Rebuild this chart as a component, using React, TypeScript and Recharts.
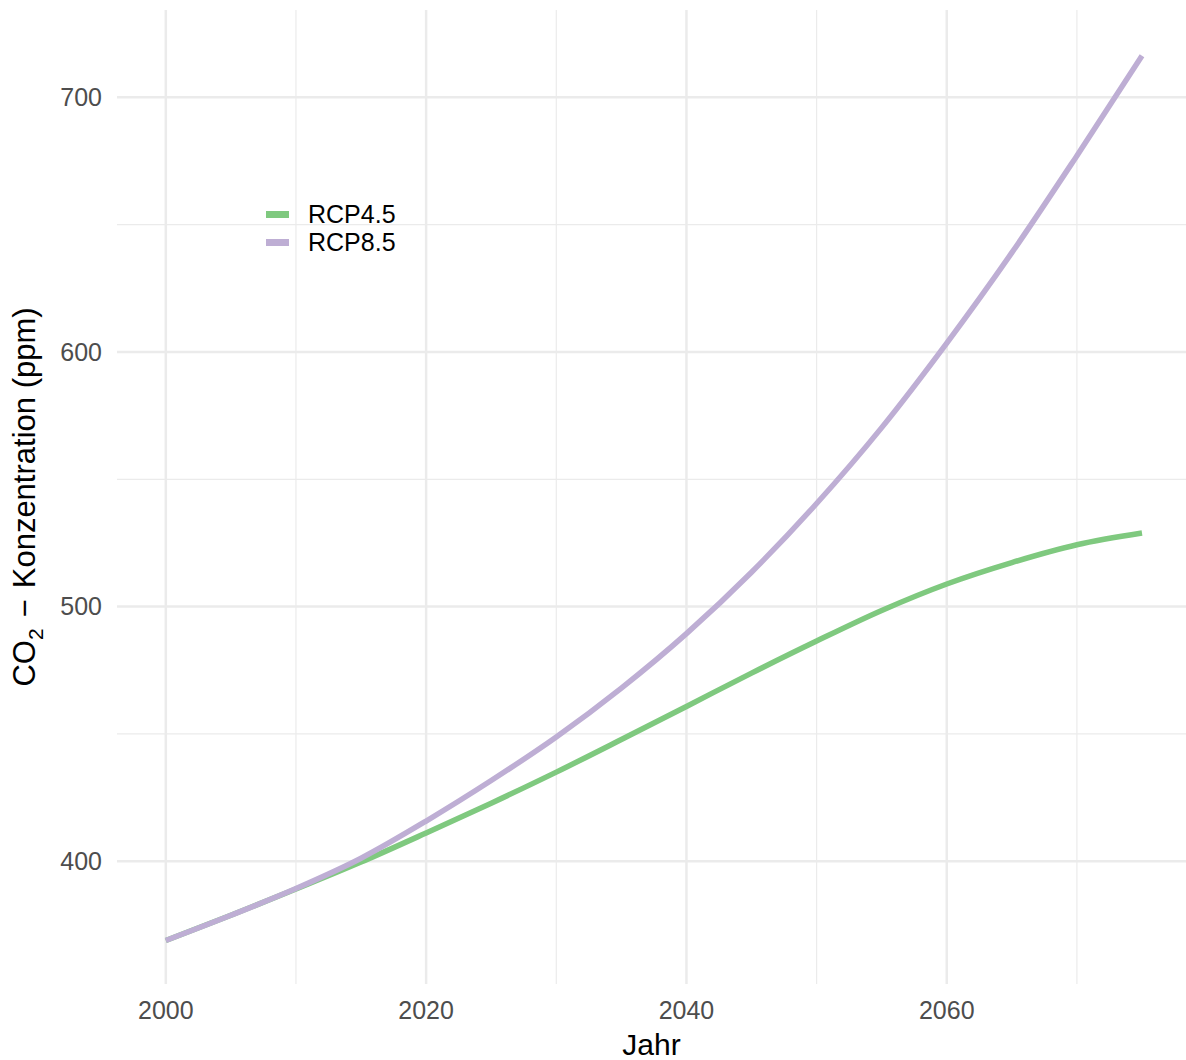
import { Line, LineChart, ReferenceLine, XAxis, YAxis } from "recharts";

const years = [2000, 2005, 2010, 2015, 2020, 2025, 2030, 2035, 2040, 2045, 2050, 2055, 2060, 2065, 2070, 2075];
const rcp45 = [368.9, 378.8, 389.1, 399.7, 411.1, 422.8, 435.0, 447.8, 460.8, 473.9, 486.5, 498.5, 508.9, 517.3, 524.3, 528.9];
const rcp85 = [368.9, 378.8, 389.3, 401.2, 415.8, 431.7, 448.8, 468.0, 489.4, 513.5, 540.5, 570.3, 603.5, 639.0, 677.1, 716.3];

const xMajor = [2000, 2020, 2040, 2060];
const xMinor = [2010, 2030, 2050, 2070];
const yMajor = [400, 500, 600, 700];
const yMinor = [450, 550, 650];

const series = [
  { key: "rcp45", name: "RCP4.5", color: "#7FC97F" },
  { key: "rcp85", name: "RCP8.5", color: "#BEAED4" },
];

const data = years.map((year, i) => ({ year, rcp45: rcp45[i], rcp85: rcp85[i] }));

const font = "'Liberation Sans', Arial, sans-serif";
const gridColor = "#EBEBEB";

function LegendBox() {
  return (
    <div style={{ position: "absolute", left: 266, top: 200.7, fontFamily: font, fontSize: 25, color: "#000" }}>
      {series.map((s) => (
        <div key={s.key} style={{ display: "flex", alignItems: "center", height: 28 }}>
          <span style={{ display: "inline-block", width: 23, height: 6.5, background: s.color, marginRight: 19 }} />
          <span>{s.name}</span>
        </div>
      ))}
    </div>
  );
}

export default function App() {
  return (
    <div style={{ position: "absolute", left: 0, top: 0, width: 1186, height: 1060, overflow: "hidden", background: "#fff" }}>
      <LineChart width={1186} height={1060} data={data} margin={{ top: 10, right: 0, bottom: 0, left: 0 }}>
        {xMinor.map((v) => (
          <ReferenceLine key={"xm" + v} x={v} stroke={gridColor} strokeWidth={1.2} />
        ))}
        {yMinor.map((v) => (
          <ReferenceLine key={"ym" + v} y={v} stroke={gridColor} strokeWidth={1.2} />
        ))}
        {xMajor.map((v) => (
          <ReferenceLine key={"xM" + v} x={v} stroke={gridColor} strokeWidth={2.5} />
        ))}
        {yMajor.map((v) => (
          <ReferenceLine key={"yM" + v} y={v} stroke={gridColor} strokeWidth={2.5} />
        ))}
        <XAxis
          dataKey="year"
          type="number"
          domain={[1996.25, 2078.38]}
          ticks={xMajor}
          allowDataOverflow
          axisLine={false}
          tickLine={false}
          tickSize={0}
          tickMargin={17}
          height={76}
          tick={{ fill: "#4D4D4D", fontSize: 25, fontFamily: font }}
          label={{
            content: (props: any) => {
              const vb = props.viewBox;
              return (
                <text x={vb.x + vb.width / 2} y={vb.y + 71} textAnchor="middle" fontSize={30} fontFamily={font} fill="#000">
                  Jahr
                </text>
              );
            },
          }}
        />
        <YAxis
          type="number"
          domain={[351.8, 734.3]}
          ticks={yMajor}
          allowDataOverflow
          axisLine={false}
          tickLine={false}
          tickSize={0}
          tickMargin={15}
          width={117}
          tick={{ fill: "#4D4D4D", fontSize: 25, fontFamily: font }}
          label={{
            content: (props: any) => {
              const vb = props.viewBox;
              const cy = vb.y + vb.height / 2;
              return (
                <text
                  x={35}
                  y={cy}
                  textAnchor="middle"
                  fontSize={31}
                  fontFamily={font}
                  fill="#000"
                  transform={`rotate(-90, 35, ${cy})`}
                >
                  <tspan>CO</tspan>
                  <tspan dy={8} fontSize={21}>2</tspan>
                  <tspan dy={-8} dx={11}>−</tspan>
                  <tspan dx={11}>Konzentration (ppm)</tspan>
                </text>
              );
            },
          }}
        />
        {series.map((s) => (
          <Line
            key={s.key}
            type="monotone"
            dataKey={s.key}
            name={s.name}
            stroke={s.color}
            strokeWidth={5.5}
            dot={false}
            activeDot={false}
            isAnimationActive={false}
          />
        ))}
      </LineChart>
      <LegendBox />
    </div>
  );
}
